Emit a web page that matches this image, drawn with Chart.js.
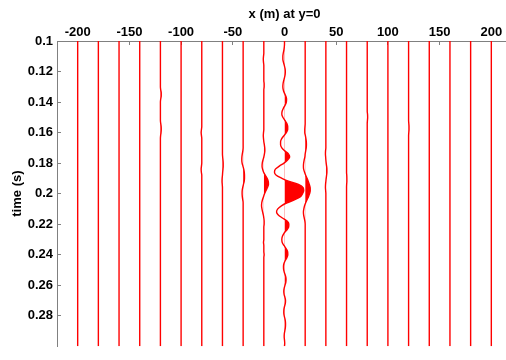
<!DOCTYPE html>
<html>
<head>
<meta charset="utf-8">
<script src="https://cdn.jsdelivr.net/npm/chart.js@4.4.0/dist/chart.umd.min.js"></script>
<style>
  html, body { margin: 0; padding: 0; background: #fff; overflow: hidden; }
  #wrap { width: 506px; height: 360px; overflow: hidden; }
  canvas { display: block; }
</style>
</head>
<body>
<div id="wrap"><canvas id="wiggleChart" width="512" height="362"></canvas></div>
<script>
//Receiver offsets along the line (m)
var offsets = [-200, -180, -160, -140, -120, -100, -80, -60, -40, -20, 0,
               20, 40, 60, 80, 100, 120, 140, 160, 180, 200];

//Axis ticks
var xTicks = [-200, -150, -100, -50, 0, 50, 100, 150, 200];
var timeTicks = [0.1, 0.12, 0.14, 0.16, 0.18, 0.2, 0.22, 0.24, 0.26, 0.28];

//Sample times (s)
var times = [
  0.1, 0.102, 0.104, 0.106, 0.108, 0.11, 0.112, 0.114, 0.116, 0.118,
  0.12, 0.122, 0.124, 0.126, 0.128, 0.13, 0.132, 0.134, 0.136, 0.138,
  0.14, 0.142, 0.144, 0.146, 0.148, 0.15, 0.152, 0.154, 0.156, 0.158,
  0.16, 0.162, 0.164, 0.166, 0.168, 0.17, 0.172, 0.174, 0.176, 0.178,
  0.18, 0.182, 0.184, 0.186, 0.188, 0.19, 0.192, 0.194, 0.196, 0.198,
  0.2, 0.202, 0.204, 0.206, 0.208, 0.21, 0.212, 0.214, 0.216, 0.218,
  0.22, 0.222, 0.224, 0.226, 0.228, 0.23, 0.232, 0.234, 0.236, 0.238,
  0.24, 0.242, 0.244, 0.246, 0.248, 0.25, 0.252, 0.254, 0.256, 0.258,
  0.26, 0.262, 0.264, 0.266, 0.268, 0.27, 0.272, 0.274, 0.276, 0.278,
  0.28, 0.282, 0.284, 0.286, 0.288, 0.29, 0.292, 0.294, 0.296, 0.298,
  0.3
];

//Trace amplitudes (scaled to m), one value per sample time
var flat = [
  0,0,0,0,0,0,0,0,0,0, 0,0,0,0,0,0,0,0,0,0, 0,0,0,0,0,0,0,0,0,0,
  0,0,0,0,0,0,0,0,0,0, 0,0,0,0,0,0,0,0,0,0, 0,0,0,0,0,0,0,0,0,0,
  0,0,0,0,0,0,0,0,0,0, 0,0,0,0,0,0,0,0,0,0, 0,0,0,0,0,0,0,0,0,0,
  0,0,0,0,0,0,0,0,0,0, 0
];

var traceM120 = [
  0,0,0,0,0,0,0,0,0,0,
  0,0,0,0,0,0,0.3,0.8,0.8,0.3,
  0,0,0,0,0,0,0,0.3,0.7,0.8,
  0.6,0.2,0,0,0,0,0,0,0,0,
  0,0,0,0,0,0,0,0,0,0, 0,0,0,0,0,0,0,0,0,0,
  0,0,0,0,0,0,0,0,0,0, 0,0,0,0,0,0,0,0,0,0,
  0,0,0,0,0,0,0,0,0,0, 0,0,0,0,0,0,0,0,0,0, 0
];

var traceM80 = [
  0,0,0,0,0,0,0,0,0,0, 0,0,0,0,0,0,0,0,0,0,
  0,0,0,0,0,0,0,0,0,-0.3,
  -0.6,-0.3,0,0,0,0,0,0,0,0,
  0,-0.3,-0.6,-0.4,0,0,0,0,0,0,
  0,0,0,0,0,0,0,0,0,0, 0,0,0,0,0,0,0,0,0,0,
  0,0,0,0,0,0,0,0,0,0, 0,0,0,0,0,0,0,0,0,0,
  0,0,0,0,0,0,0,0,0,0, 0
];

var traceM60 = [
  0,0,0,0,0,0,0,0,0,0, 0,0,0,0,0,0,0,0,0,0, 0,0,0,0,0,0,0,0,0,0,
  0,0,0,0,0,0,0,0,0.2,0.5,
  0.7,0.7,0.5,0.2,0,-0.3,-0.4,-0.2,0,0,
  0,0,0,0,0,0,0,0,0,0, 0,0,0,0,0,0,0,0,0,0,
  0,0,0,0,0,0,0,0,0,0, 0,0,0,0,0,0,0,0,0,0,
  0,0,0,0,0,0,0,0,0,0, 0
];

var traceM40 = [
  0,0,0,0,0,0,0,0,0,0, 0,0,0,0,0,0,0,0,0,0, 0,0,0,0,0,0,0,0,0,0,
  0,0,0,0,0,0,-0.3,-0.8,-1.2,-1.3,
  -1,-0.2,0.6,1.1,1.3,1.3,1,0.3,-0.4,-0.9,
  -1,-0.8,-0.4,0,0,0,0,0,0,0,
  0,0,0,0,0,0,0,0,0,0, 0,0,0,0,0,0,0,0,0,0,
  0,0,0,0,0,0,0,0,0,0, 0,0,0,0,0,0,0,0,0,0, 0
];

var traceM20 = [
  0,0,0,0,0,-0.3,-0.5,-0.3,0,0,
  0,0,0,0,0.3,0.3,0,0,0,0,
  0,0,0,0,0,0,0,0,0,0,
  -0.3,-0.5,-0.3,0,0.5,0.9,1,0.6,0,-0.8,
  -1.5,-1.7,-1.2,-0.2,1.5,3.2,4.3,4.5,3.5,2.1,
  0.8,-0.3,-1.3,-2,-2.2,-1.8,-1.2,-0.5,0,0.3,
  0.3,0,0,0,0,0,-0.3,0,0,0,
  0.3,0,0,0,0,0,0,0,0,0,
  0,0,0,0,0,0,0,0,0,0, 0,0,0,0,0,0,0,0,0,0, 0
];

var trace0 = [
  0,0,-0.2,-0.6,-1.2,-1.6,-1.6,-1,-0.2,0.5,
  0.8,0.6,0,-0.8,-1.4,-1.6,-1.2,-0.2,1.2,2,
  1.8,0.6,-1,-2.3,-2.6,-1.6,0.4,2.2,3.1,3.1,
  1.8,-0.5,-2.7,-3.8,-3.8,-2.6,0.3,3.8,5,3,
  -0.5,-5,-8.8,-9.7,-8,-2.5,4.5,13.5,18,18.6,
  17.5,15.5,10,2.5,-3,-6.5,-7.7,-6,-2,2.5,
  4.2,4,2,-0.5,-2,-2.6,-2.2,-0.5,1.5,3,
  3.2,2.3,0.6,-0.6,-1,-0.8,0,1,1.5,1.3,
  0.5,-0.3,-0.7,-0.4,0.4,1,0.8,0,-0.6,-0.7,
  -0.3,0.4,0.9,1,0.8,0.3,-0.2,-0.3,0,0.2,
  0
];

var trace20 = [
  0,0,0,0,0,0,0,0,0,0, 0,0,0,0,0,0,0,0,0,0,
  0,0,0,0,0,0,0,0,-0.2,-0.4,
  -0.4,0.2,0.7,1.1,1.2,1,0.5,0,-0.3,-1,
  -1.5,-1.7,-1.5,-0.6,0.5,1.8,3,4,4.8,4.9,
  4.3,3.2,1.8,0.5,-0.6,-1.3,-1.7,-1.5,-0.9,-0.3,
  0,0,0,0,0,0,0,0,0,0, 0,0,0,0,0,0,0,0,0,0,
  0,0,0,0,0,0,0,0,0,0, 0,0,0,0,0,0,0,0,0,0, 0
];

var trace40 = [
  0,0,0,0,0,0,0,0,0,0, 0,0,0,0,0,0,0,0,0,0, 0,0,0,0,0,0,0,0,0,0,
  0,0,0,0,0,0,-0.3,-0.4,-0.2,0,
  0.3,0.7,1,1,0.7,0.3,0,-0.3,-0.4,-0.2,
  0,0,0,0,0,0,0,0,0,0, 0,0,0,0,0,0,0,0,0,0,
  0,0,0,0,0,0,0,0,0,0, 0,0,0,0,0,0,0,0,0,0,
  0,0,0,0,0,0,0,0,0,0, 0
];

var trace60 = [
  0,0,0,0,0,0,0,0,0,0, 0,0,0,0,0,0,0,0,0,0, 0,0,0,0,0,0,0,0,0,0,
  0,0,0,0,0,0,0,0,0,0,
  0,0,0,0,0.2,0.3,0.3,0.1,0,0,
  0,0,0,0,0,0,0,0,0,0, 0,0,0,0,0,0,0,0,0,0,
  0,0,0,0,0,0,0,0,0,0, 0,0,0,0,0,0,0,0,0,0,
  0,0,0,0,0,0,0,0,0,0, 0
];

var trace80 = [
  0,0,0,0,0,0,0,0,0,0, 0,0,0,0,0,0,0,0,0,0,
  0,0,0,0,0.3,0.4,0.2,0,0,0,
  0,0,0,0,0,0,0,0,0,0, 0,0,0,0,0,0,0,0,0,0,
  0,0,0,0,0,0,0,0,0,0, 0,0,0,0,0,0,0,0,0,0,
  0,0,0,0,0,0,0,0,0,0, 0,0,0,0,0,0,0,0,0,0,
  0,0,0,0,0,0,0,0,0,0, 0
];

var trace120 = [
  0,0,0,0,0,0,0,0,0,0, 0,0,0,0,0,0,0,0,0,0,
  0,0,0,0,0,0,0,0.2,0.4,0.4,
  0.2,0,0,0,0,0,0,0,0,0, 0,0,0,0,0,0,0,0,0,0,
  0,0,0,0,0,0,0,0,0,0, 0,0,0,0,0,0,0,0,0,0,
  0,0,0,0,0,0,0,0,0,0, 0,0,0,0,0,0,0,0,0,0,
  0,0,0,0,0,0,0,0,0,0, 0
];

//Traces in the same order as offsets
var traces = [flat, flat, flat, flat, traceM120, flat, traceM80, traceM60, traceM40, traceM20, trace0,
              trace20, trace40, trace60, trace80, flat, trace120, flat, flat, flat, flat];

var axisColor = '#808080';
var traceColor = 'rgb(255,0,0)';
var labelFont = {family: "'Liberation Sans', Arial, sans-serif", size: 13, weight: 'bold'};

var datasets = traces.map(function (amp, k) {
    return {
        data: times.map(function (t, i) { return {x: offsets[k] + amp[i], y: t}; }),
        borderColor: traceColor,
        borderWidth: 1.4,
        pointRadius: 0,
        fill: false,
        cubicInterpolationMode: 'monotone'
    };
});

//Paint the part of each wiggle that swings right of its own offset
var positiveFill = {
    id: 'positiveFill',
    beforeDatasetDraw: function (chart, args) {
        var line = args.meta.dataset;
        if (!line || !line.points.length) return;
        var area = chart.chartArea;
        var base = chart.scales.x.getPixelForValue(offsets[args.index]);
        var pts = line.points;
        var ctx = chart.ctx;
        ctx.save();
        ctx.beginPath();
        ctx.rect(base, area.top, area.right - base, area.bottom - area.top);
        ctx.clip();
        ctx.beginPath();
        line.path(ctx);
        ctx.lineTo(base, pts[pts.length - 1].y);
        ctx.lineTo(base, pts[0].y);
        ctx.closePath();
        ctx.fillStyle = traceColor;
        ctx.fill();
        ctx.restore();
    }
};

var ctx = document.getElementById('wiggleChart').getContext('2d');
var chart = new Chart(ctx, {
    type: 'line',
    data: {datasets: datasets},
    plugins: [positiveFill],
    options: {
        responsive: false,
        animation: false,
        events: [],
        indexAxis: 'y',
        layout: {padding: 0},
        plugins: {
            legend: {display: false},
            tooltip: {enabled: false}
        },
        scales: {
            x: {
                type: 'linear',
                position: 'top',
                min: -220,
                max: 220,
                afterFit: function (s) { s.height = 41; },
                afterBuildTicks: function (s) {
                    s.ticks = xTicks.map(function (v) { return {value: v}; });
                },
                ticks: {
                    color: '#000',
                    font: labelFont,
                    padding: 5,
                    maxRotation: 0,
                    autoSkip: false,
                    callback: function (v) { return String(v); }
                },
                grid: {drawOnChartArea: false, drawTicks: true, tickLength: -4, color: axisColor},
                border: {display: true, color: axisColor, width: 1},
                title: {
                    display: true,
                    text: 'x (m) at y=0',
                    color: '#000',
                    font: labelFont,
                    padding: {top: 7, bottom: 0}
                }
            },
            y: {
                type: 'linear',
                reverse: true,
                min: 0.1,
                max: 0.3,
                afterFit: function (s) { s.width = 57; },
                afterBuildTicks: function (s) {
                    s.ticks = timeTicks.map(function (v) { return {value: v}; });
                },
                ticks: {
                    color: '#000',
                    font: labelFont,
                    padding: 8,
                    autoSkip: false,
                    callback: function (v) { return String(v); }
                },
                grid: {drawOnChartArea: false, drawTicks: true, tickLength: -4, color: axisColor},
                border: {display: true, color: axisColor, width: 1},
                title: {
                    display: true,
                    text: 'time (s)',
                    color: '#000',
                    font: labelFont,
                    padding: {top: 10, bottom: 0}
                }
            }
        }
    }
});
</script>
</body>
</html>
